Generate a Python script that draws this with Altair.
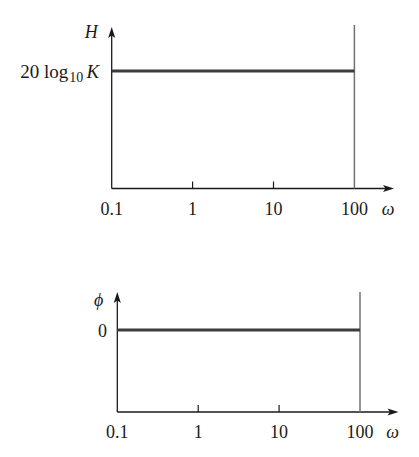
import altair as alt
import pandas as pd

# ---------------- data ----------------
omega_span = [0.1, 100]          # frequency range of the plotted response
magnitude = [1.0, 1.0]           # H = 20 log10 K (constant, relative units)
phase = [0.0, 0.0]               # phi = 0 (degrees)
magnitude_axis = 0.0             # baseline of the H axis
phase_axis = -90.0               # baseline of the phi axis
tick_values = [0.1, 1, 10, 100]
tick_labels = ["0.1", "1", "10", "100"]
inner_ticks = [1, 10]

# ---------------- style / layout ----------------
SERIF = "Liberation Serif"
INK = "#1a1a1a"
W = 400
LEFT = 8
DECADE = 80.9
ARROW_R = "M0,0 L-2,-0.65 L-1.55,0 L-2,0.65 Z"
ARROW_U = "M0,0 L-0.65,2 L0,1.55 L0.65,2 Z"


def make_panel(values, v_axis, x0, top, height, p_axis, p_line, x_tip, y_tip,
               v_top_page, ylabel_parts, name, name_dx, name_dy):
    la = -1 - (x0 - LEFT) / DECADE
    xs = alt.Scale(type="log", domain=[10 ** la, 10 ** (la + W / DECADE)], nice=False)
    v_line = values[0]
    k = (p_axis - p_line) / (v_line - v_axis)

    def yv(page):
        return v_axis + (p_axis - page) / k

    def xv(page):
        return 10 ** (-1 + (page - x0) / DECADE)

    ys = alt.Scale(domain=[yv(top + height), yv(top)], nice=False, zero=False)

    def X(f):
        return alt.X(f, type="quantitative", scale=xs, axis=None)

    def Y(f):
        return alt.Y(f, type="quantitative", scale=ys, axis=None)

    x_start = omega_span[0]
    layers = []
    # axes
    layers.append(alt.Chart(pd.DataFrame({"a": [x_start], "b": [xv(x_tip - 5)], "v": [v_axis]}))
                  .mark_rule(color=INK, strokeWidth=1.3)
                  .encode(X("a"), alt.X2("b"), Y("v")))
    layers.append(alt.Chart(pd.DataFrame({"w": [x_start], "a": [v_axis], "b": [yv(y_tip + 5)]}))
                  .mark_rule(color=INK, strokeWidth=1.3)
                  .encode(X("w"), Y("a"), alt.Y2("b")))
    # inner ticks
    layers.append(alt.Chart(pd.DataFrame({"w": inner_ticks, "a": [v_axis] * len(inner_ticks),
                                          "b": [yv(p_axis - 7)] * len(inner_ticks)}))
                  .mark_rule(color=INK, strokeWidth=1.2)
                  .encode(X("w"), Y("a"), alt.Y2("b")))
    # vertical line at the end of the span
    layers.append(alt.Chart(pd.DataFrame({"w": [omega_span[-1]], "a": [v_axis], "b": [yv(v_top_page)]}))
                  .mark_rule(color="#707070", strokeWidth=1.5)
                  .encode(X("w"), Y("a"), alt.Y2("b")))
    # data line
    layers.append(alt.Chart(pd.DataFrame({"w": omega_span, "v": values}))
                  .mark_line(color="#3c3c3c", strokeWidth=3)
                  .encode(X("w"), Y("v")))
    # arrows
    layers.append(alt.Chart(pd.DataFrame({"w": [xv(x_tip)], "v": [v_axis]}))
                  .mark_point(shape=ARROW_R, filled=True, size=121, color=INK, opacity=1, strokeWidth=0)
                  .encode(X("w"), Y("v")))
    layers.append(alt.Chart(pd.DataFrame({"w": [x_start], "v": [yv(y_tip)]}))
                  .mark_point(shape=ARROW_U, filled=True, size=121, color=INK, opacity=1, strokeWidth=0)
                  .encode(X("w"), Y("v")))
    # tick labels
    layers.append(alt.Chart(pd.DataFrame({"w": tick_values, "t": tick_labels,
                                          "v": [v_axis] * len(tick_values)}))
                  .mark_text(font=SERIF, fontSize=18, color=INK, baseline="alphabetic",
                             align="center", dy=26)
                  .encode(X("w"), Y("v"), text="t:N"))
    # omega label
    layers.append(alt.Chart(pd.DataFrame({"w": [xv(x_tip)], "v": [v_axis], "t": ["ω"]}))
                  .mark_text(font=SERIF, fontSize=18, fontStyle="italic", color=INK,
                             baseline="alphabetic", align="center", dx=-6, dy=26)
                  .encode(X("w"), Y("v"), text="t:N"))
    # axis name (H / phi)
    layers.append(alt.Chart(pd.DataFrame({"w": [x_start], "v": [yv(y_tip)], "t": [name]}))
                  .mark_text(font=SERIF, fontSize=18, fontStyle="italic", color=INK,
                             baseline="middle", align="right", dx=name_dx, dy=name_dy)
                  .encode(X("w"), Y("v"), text="t:N"))
    # level label pieces
    for txt, size, style, dx, dy in ylabel_parts:
        layers.append(alt.Chart(pd.DataFrame({"w": [x_start], "v": [v_line], "t": [txt]}))
                      .mark_text(font=SERIF, fontSize=size, fontStyle=style, color=INK,
                                 baseline="alphabetic", align="right", dx=dx, dy=dy)
                      .encode(X("w"), Y("v"), text="t:N"))
    return alt.layer(*layers).properties(width=W, height=height)


top_panel = make_panel(
    magnitude, magnitude_axis, x0=111.7, top=8, height=220, p_axis=188.5, p_line=71,
    x_tip=394, y_tip=27, v_top_page=25,
    ylabel_parts=[("K", 19, "italic", -12.5, 7.3),
                  ("10", 14, "normal", -28.4, 10.7),
                  ("20 log", 19, "normal", -43.4, 7.3)],
    name="H", name_dx=-14, name_dy=6)

bottom_panel = make_panel(
    phase, phase_axis, x0=117.3, top=240, height=208, p_axis=412, p_line=330,
    x_tip=398.5, y_tip=292, v_top_page=292,
    ylabel_parts=[("0", 18, "normal", -10.3, 6.7)],
    name="ϕ", name_dx=-14, name_dy=9)

chart = (alt.vconcat(top_panel, bottom_panel, spacing=12)
         .properties(padding=0)
         .configure_view(stroke=None))

chart.save("out.html", embed_options={"renderer": "svg", "actions": False})
